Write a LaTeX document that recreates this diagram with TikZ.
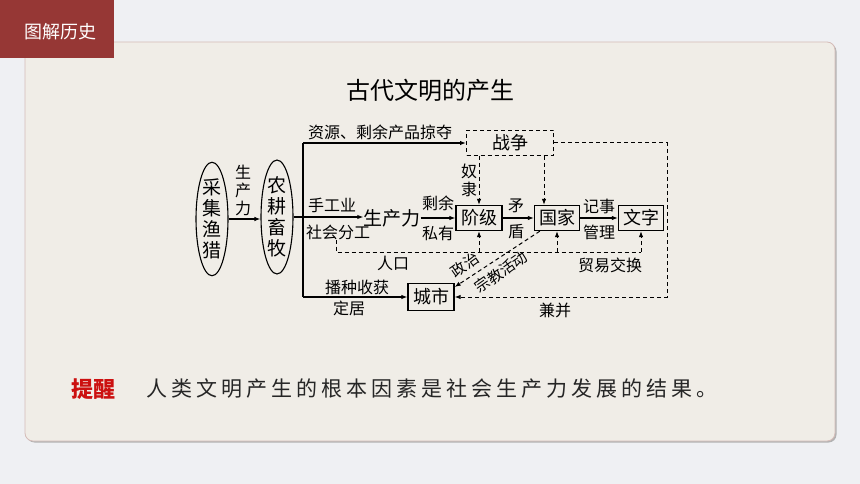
\documentclass[tikz,border=0pt]{standalone}
\usepackage{fontspec}
\setmainfont{Noto Sans CJK SC}
\usetikzlibrary{arrows.meta}
\usetikzlibrary{shapes.geometric}
\definecolor{pagebg}{HTML}{EFF0F3}
\definecolor{panelbg}{HTML}{F0EDE7}
\definecolor{panelline}{HTML}{D5BCB8}
\definecolor{tabred}{HTML}{963735}
\definecolor{tipred}{HTML}{CC1010}
\def\bw{46pt}
\def\bh{25pt}
\def\lblsize{\fontsize{16pt}{18pt}\selectfont}
\tikzset{
    box/.style = {
        draw, rectangle, minimum width=\bw, minimum height=\bh, inner sep=0pt, line width=1.3pt, font=\fontsize{18pt}{20pt}\selectfont
    },
    dbox/.style = {box, dash pattern=on 4pt off 3pt, line width=1pt},
    oval/.style = {
        draw, ellipse, minimum width=32pt, minimum height=98pt, inner sep=0pt, line width=1.1pt, align=center, font=\fontsize{19pt}{21pt}\selectfont
    },
    lbl/.style = {inner sep=0pt, align=center, font=\lblsize},
    slant/.style = {inner sep=0pt, rotate=35, font=\fontsize{15pt}{17pt}\selectfont},
    sarr/.style = {line width=1.1pt, -{Latex[length=6pt,width=4.5pt]}},
    dline/.style = {line width=1pt, dash pattern=on 4pt off 3pt},
    darr/.style = {dline, -{Latex[length=6pt,width=4.5pt]}},
}

\begin{document}
\begin{tikzpicture}[x=1pt, y=-1pt]
        % Page, panel and tab
        \fill[pagebg] (0,0) rectangle (860,484);
        \useasboundingbox (0,0) rectangle (860,484);
        \fill[black!30, rounded corners=8pt] (26.5,43.5) rectangle (836.5,442.5);
        \filldraw[fill=panelbg, draw=panelline, line width=0.8pt, rounded corners=8pt] (25,42) rectangle (835,441);
        \fill[tabred] (0,0) rectangle (114,58);
        \node[text=white, font=\fontsize{18pt}{20pt}\selectfont] (tab) at (60,32) {图解历史};
        \node[font=\fontsize{24pt}{26pt}\selectfont] (title) at (430,90) {古代文明的产生};

        % Place the blocks
        \node[oval] (cjyl) at (212,219) {采\\集\\渔\\猎};
        \node[oval] (ngxm) at (277,217) {农\\耕\\畜\\牧};
        \node[inner sep=0pt, font=\fontsize{19pt}{21pt}\selectfont] (scl) at (392,218) {生产力};
        \node[dbox, minimum width=87pt] (zz) at (510,143) {战争};
        \node[box] (jj) at (479,218) {阶级};
        \node[box, minimum width=45pt] (gj) at (557,218) {国家};
        \node[box, minimum width=45pt] (wz) at (641,218) {文字};
        \node[box, minimum height=27pt] (cs) at (431,297) {城市};

        % Labels
        \node[lbl] (scl-a) at (243,190) {生\\产\\力};
        \node[lbl] (zyld) at (380,132) {资源、剩余产品掠夺};
        \node[lbl] (sgy) at (332,205) {手工业};
        \node[lbl] (shfg) at (338,232) {社会分工};
        \node[lbl] (sy) at (438,203) {剩余};
        \node[lbl] (sy-b) at (438,233) {私有};
        \node[lbl] (nl) at (469,180) {奴\\隶};
        \node[lbl] (md-a) at (516,206) {矛};
        \node[lbl] (md-b) at (516,232) {盾};
        \node[lbl] (js) at (599,206) {记事};
        \node[lbl] (gl) at (599,232) {管理};
        \node[lbl] (rk-l) at (393,263) {人口};
        \node[lbl] (myjh) at (610,265) {贸易交换};
        \node[lbl] (bzsh) at (357,287) {播种收获};
        \node[lbl] (dj) at (349,308) {定居};
        \node[lbl] (jb) at (555,310) {兼并};
        \node[slant] (zz-l) at (465,265) {政治};
        \node[slant] (zjhd) at (501,272) {宗教活动};

        % Draw connections
        \coordinate (t1) at (303,143);
        \coordinate (t2) at (303,297);
        \draw[line width=1.1pt] (t1) -- (t2);
        \draw[sarr] (t1) -- (zz.west);
        \draw[sarr] (t2) -- (cs.west);
        \draw[sarr] (cjyl.east) -- (cjyl.east -| ngxm.west);
        \draw[sarr] (ngxm.east) -- (ngxm.east -| scl.west);
        \draw[sarr] (scl.east) -- (jj.west);
        \draw[sarr] (jj) -- (gj);
        \draw[sarr] (gj) -- (wz);

        % Dashed connections
        \draw[darr] (zz.south -| jj.north) -- (jj.north);
        \coordinate (g1) at ([xshift=-13pt]gj.north);
        \draw[darr] (g1 |- zz.south) -- (g1);
        \coordinate (r1) at (667,0);
        \draw[darr] (zz.east) -| (r1 |- cs.east) -- (cs.east);
        \coordinate (rk) at ([xshift=-2pt]shfg.south);
        \coordinate (rk2) at (0,252);
        \draw[dline] (rk) |- (rk2 -| wz.south);
        \foreach \n in {jj, gj, wz}{
            \draw[darr] (\n.south |- rk2) -- (\n.south);
        }
        \draw[darr] ([xshift=6pt]gj.south west) -- ([yshift=10pt]cs.east);

        % Reminder line
        \node[text=tipred, font=\bfseries\fontsize{22pt}{24pt}\selectfont, inner sep=0pt] (tx) at (93,389) {提醒};
        \node[anchor=west, inner sep=0pt, text=black!85, font=\fontsize{21pt}{23pt}\selectfont\addfontfeature{LetterSpace=19.2}] (jl) at (146,389) {人类文明产生的根本因素是社会生产力发展的结果。};
\end{tikzpicture}
\end{document}
